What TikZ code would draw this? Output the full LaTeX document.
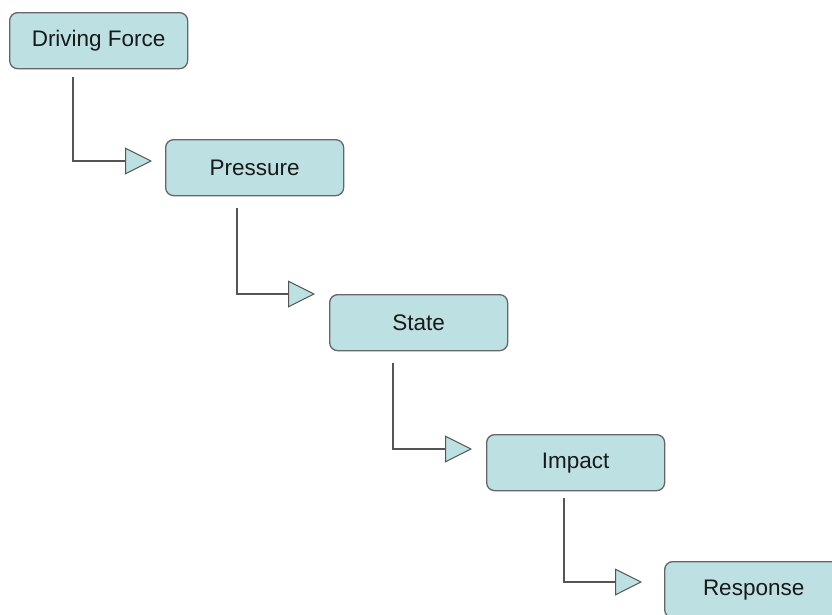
\documentclass[tikz,border=0pt]{standalone}
\usepackage{fontspec}
\setmainfont{Liberation Sans}
\usetikzlibrary{arrows.meta,calc}

\definecolor{boxfill}{HTML}{BDE0E3}
\definecolor{boxline}{HTML}{666666}
\definecolor{connline}{HTML}{555555}

\tikzset{
  stage/.style={draw=boxline, line width=1.3pt, fill=boxfill, rounded corners=8pt,
    minimum width=178pt, minimum height=56pt, anchor=north west, inner sep=0pt,
    font=\fontsize{22.5}{27}\selectfont, text=black!90},
  flow/.style={draw=connline, line width=1.1pt,
    -{Triangle[length=27pt, width=27pt, fill=boxfill, line width=1pt]}},
}

\begin{document}
\begin{tikzpicture}[x=1pt, y=-1pt]
  \useasboundingbox (0,0) rectangle (832,614);

  % the five stages of the chain
  \node[stage] (drive)    at (9,12)    {Driving Force};
  \node[stage] (press)    at (165,139) {Pressure};
  \node[stage] (state)    at (329,294) {State};
  \node[stage] (impact)   at (486,434) {Impact};
  \node[stage] (response) at (664,561) {Response};

  % elbow links: down from each stage, then right towards the next
  \draw[flow] ($(drive.south west)+(64,8)$)  |- ($(press.north west)+(-13,22)$);
  \draw[flow] ($(press.south west)+(72,12)$) |- ($(state.north west)+(-14,0)$);
  \draw[flow] ($(state.south west)+(64,12)$) |- ($(impact.north west)+(-14,15)$);
  \draw[flow] ($(impact.south west)+(78,7)$) |- ($(response.north west)+(-22,21)$);
\end{tikzpicture}
\end{document}
